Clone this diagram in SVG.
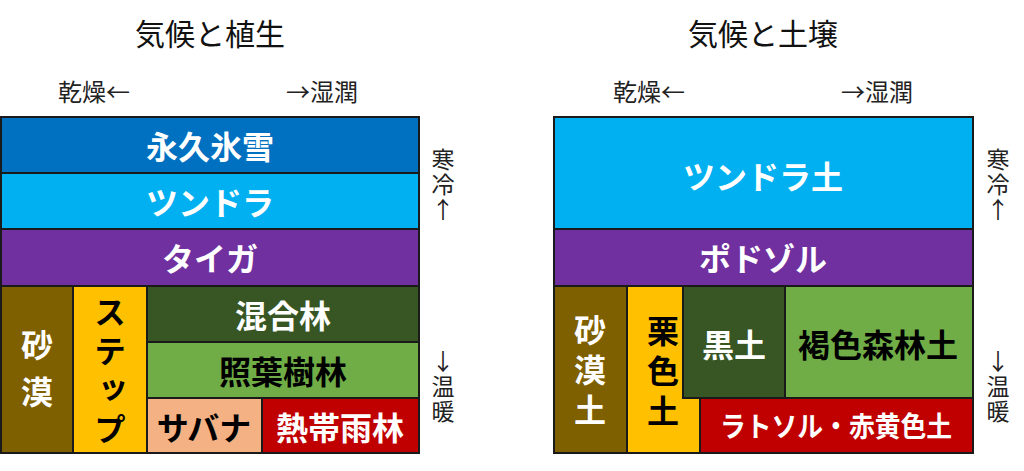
<svg xmlns="http://www.w3.org/2000/svg" width="1024" height="471" viewBox="0 0 1024 471">
<style>
.box{stroke:#1a1a1a;stroke-width:2}
.t{font-family:"Noto Sans CJK JP","Noto Sans",sans-serif;font-weight:bold;font-size:32px;text-anchor:middle;dominant-baseline:central}
.w{fill:#fff}
.k{fill:#000}
.vt{writing-mode:vertical-rl;text-orientation:upright}
.lab{font-family:"Noto Sans CJK JP","Noto Sans",sans-serif;font-size:24px;fill:#222;dominant-baseline:central}
.vl{font-family:"Noto Sans CJK JP","Noto Sans",sans-serif;font-size:23px;fill:#222;text-anchor:middle;writing-mode:vertical-rl;text-orientation:upright;letter-spacing:2px}
.ttl{font-family:"Noto Sans CJK JP","Noto Sans",sans-serif;font-size:30px;fill:#111;text-anchor:middle;dominant-baseline:central}
</style>
<rect width="1024" height="471" fill="#fff"/>
<g id="titles">
<text class="ttl" x="210" y="32">気候と植生</text>
<text class="ttl" x="763" y="32">気候と土壌</text>
</g>
<g id="axes">
<text class="lab" x="58" y="90">乾燥←</text>
<text class="lab" x="358" y="90" text-anchor="end">→湿潤</text>
<text class="lab" x="613" y="90">乾燥←</text>
<text class="lab" x="913" y="90" text-anchor="end">→湿潤</text>
<text class="vl" x="443" y="185">寒冷↑</text>
<text class="vl" x="443" y="387">↓温暖</text>
<text class="vl" x="998" y="185">寒冷↑</text>
<text class="vl" x="998" y="387">↓温暖</text>
</g>
<g id="vegetation">
<g id="eikyu"><rect class="box" x="1" y="117" width="418" height="56" fill="#0070C0"/><text class="t w" x="210" y="145">永久氷雪</text></g>
<g id="tundra"><rect class="box" x="1" y="173" width="418" height="56" fill="#00B0F0"/><text class="t w" x="210" y="201">ツンドラ</text></g>
<g id="taiga"><rect class="box" x="1" y="229" width="418" height="57" fill="#7030A0"/><text class="t w" x="210" y="257">タイガ</text></g>
<g id="sabaku"><rect class="box" x="1" y="286" width="72" height="167" fill="#7F6000"/>
<text class="t w vt" x="37" y="376" style="letter-spacing:15px">砂漠</text></g>
<g id="steppe"><rect class="box" x="73" y="286" width="74" height="167" fill="#FFC000"/>
<text class="t k vt" x="110" y="374" style="letter-spacing:7px">ステップ</text></g>
<g id="kongorin"><rect class="box" x="147" y="286" width="272" height="56" fill="#375623"/><text class="t w" x="283" y="314">混合林</text></g>
<g id="shoyo"><rect class="box" x="147" y="342" width="272" height="56" fill="#70AD47"/><text class="t k" x="283" y="370">照葉樹林</text></g>
<g id="savanna"><rect class="box" x="147" y="398" width="115" height="55" fill="#F4B183"/><text class="t k" x="204" y="426">サバナ</text></g>
<g id="nettai"><rect class="box" x="262" y="398" width="157" height="55" fill="#C00000"/><text class="t w" x="340" y="426">熱帯雨林</text></g>
</g>
<g id="soil">
<g id="tundra-soil"><rect class="box" x="554" y="117" width="419" height="112" fill="#00B0F0"/><text class="t w" x="763" y="175">ツンドラ土</text></g>
<g id="podzol"><rect class="box" x="554" y="229" width="419" height="57" fill="#7030A0"/><text class="t w" x="763" y="257">ポドゾル</text></g>
<g id="sabakudo"><rect class="box" x="554" y="286" width="73" height="167" fill="#7F6000"/>
<text class="t w vt" x="590" y="374" style="letter-spacing:8px">砂漠土</text></g>
<g id="kuriiro"><path class="box" d="M627 286 H683 V398 H700 V453 H627 Z" fill="#FFC000"/>
<text class="t k vt" x="663" y="375" style="letter-spacing:8px">栗色土</text></g>
<g id="kokudo"><rect class="box" x="683" y="286" width="102" height="112" fill="#375623"/><text class="t w" x="734" y="343">黒土</text></g>
<g id="kasshoku"><rect class="box" x="785" y="286" width="188" height="112" fill="#70AD47"/><text class="t k" x="878" y="343">褐色森林土</text></g>
<g id="laterite"><rect class="box" x="700" y="398" width="273" height="55" fill="#C00000"/><text class="t w" x="836" y="425" style="font-size:28px" textLength="232" lengthAdjust="spacingAndGlyphs">ラトソル・赤黄色土</text></g>
</g>
</svg>
